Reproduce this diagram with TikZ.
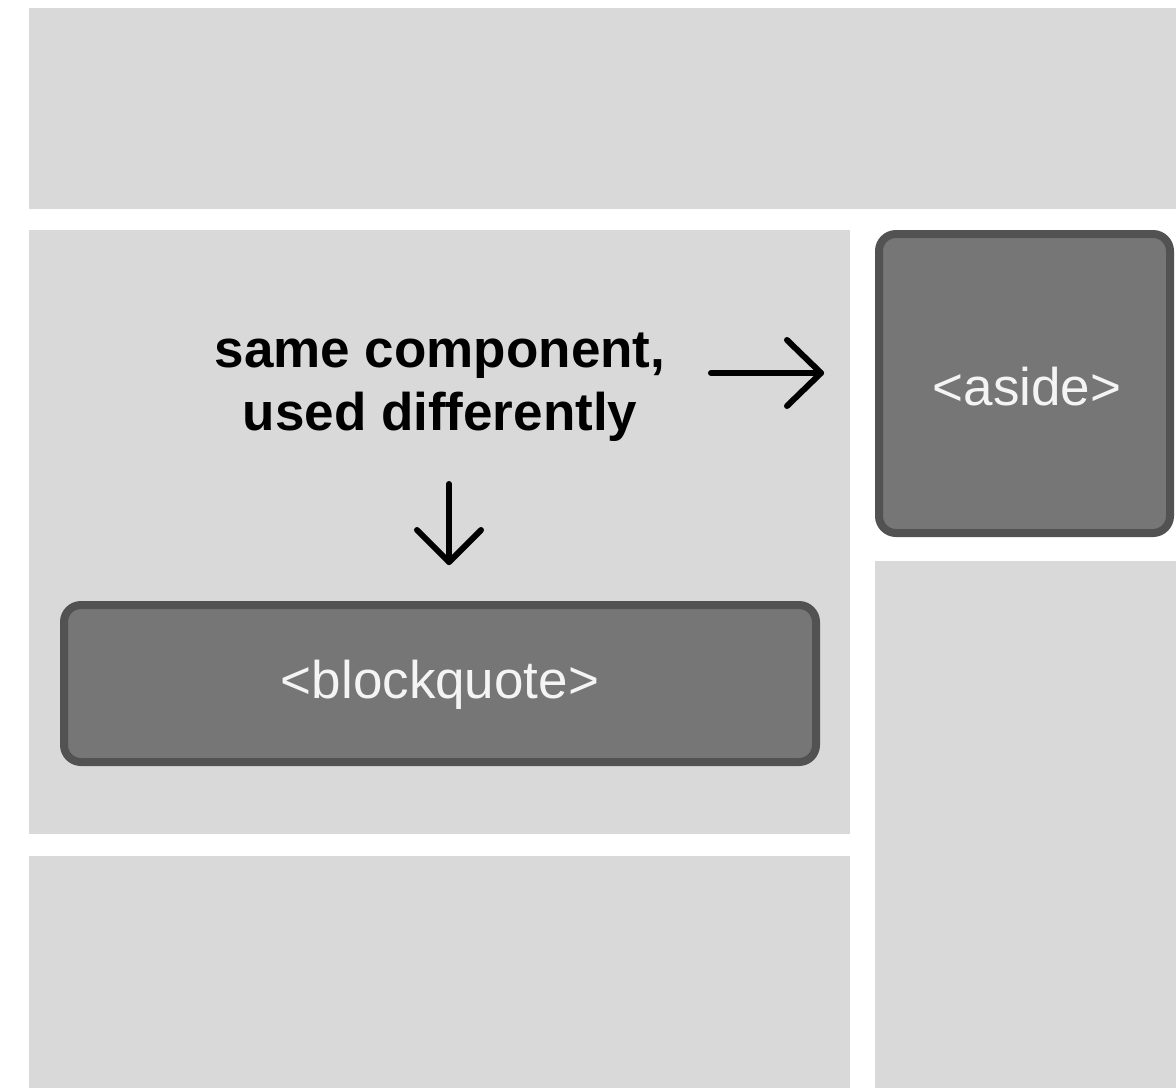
\documentclass[tikz,border=0pt]{standalone}
\usepackage{fontspec}
\setmainfont{Liberation Sans}
\usetikzlibrary{calc}
\definecolor{panel}{HTML}{D9D9D9}
\definecolor{boxfill}{HTML}{767676}
\definecolor{boxline}{HTML}{525252}
\definecolor{boxtext}{HTML}{F4F4F4}
\tikzset{
  panelbox/.style={fill=panel, draw=none},
  compbox/.style={draw=boxline, fill=boxfill, line width=8pt, rounded corners=17pt},
  comptext/.style={text=boxtext, font=\fontsize{53}{63}\selectfont, inner sep=0pt},
  lbltext/.style={font=\fontsize{53}{63}\selectfont\bfseries, align=center, inner sep=0pt},
  arrowline/.style={line width=6pt, line cap=round, line join=round}
}
\begin{document}
\begin{tikzpicture}[x=1pt,y=-1pt]
\useasboundingbox (0,0) rectangle (1176,1088);
\fill[white] (0,0) rectangle (1176,1088);
% panels
\fill[panelbox] (29,8) rectangle (1176,209);
\fill[panelbox] (29,230) rectangle (850,834);
\fill[panelbox] (29,856) rectangle (850,1088);
\fill[panelbox] (875,561) rectangle (1176,1088);
% component boxes
\draw[compbox] (64,605) rectangle (816,762);
\draw[compbox] (879,234) rectangle (1170,533);
\node[comptext, anchor=base] (bq) at (440,698) {<blockquote>};
\node[comptext, anchor=base] (aside) at (1027,405) {<aside>};
% label
\node[lbltext, anchor=base] (lbl) at (440,430) {same component,\\used differently};
% arrows
\coordinate (rs) at (711,373);
\coordinate (re) at (821,373);
\coordinate (ds) at (449,484);
\coordinate (de) at (449,562);
\draw[arrowline] (rs) -- (re);
\draw[arrowline] ($(re)+(-34,-33)$) -- (re) -- ($(re)+(-34,33)$);
\draw[arrowline] (ds) -- (de);
\draw[arrowline] ($(de)+(-32,-32)$) -- (de) -- ($(de)+(32,-32)$);
\end{tikzpicture}
\end{document}
